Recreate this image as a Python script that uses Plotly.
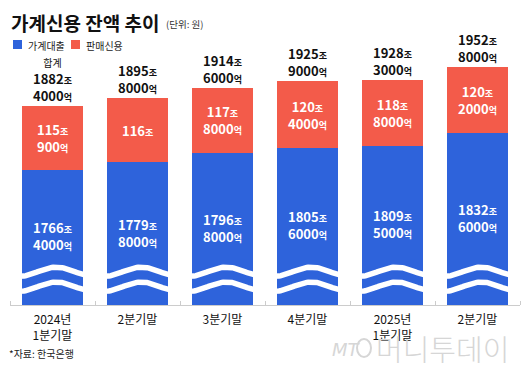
import numpy as np
import plotly.graph_objects as go

# ---- data (unit: 조원) ----
categories = ["2024년<br>1분기말", "2분기말", "3분기말", "4분기말", "2025년<br>1분기말", "2분기말"]
household_loans = [1766.4, 1779.8, 1796.8, 1805.6, 1809.5, 1832.6]   # 가계대출
sales_credit = [115.09, 116.0, 117.8, 120.4, 118.8, 120.2]           # 판매신용
totals = [1882.4, 1895.8, 1914.6, 1925.9, 1928.3, 1952.8]            # 합계

BLUE = "#2e63db"
RED = "#f35b4a"
FONT = "Noto Sans CJK KR"

OFF = 8                      # page body margin
W, H = 522, 368
ML, MR, MT, MB = 2, 10, 32, 71
Y0, Y1 = 1522, 2001
PW, PH = W - ML - MR, H - MT - MB


def X(px):
    return (px - OFF - ML) / PW


def Y(py):
    return (H - MB - (py - OFF)) / PH


def fmt(v, small=9):
    jo = int(v)
    eok = int(round((v - jo) * 10000))
    s = f"{jo}<span style='font-size:{small}px'>조</span>"
    if eok:
        s += f"<br>{eok}<span style='font-size:{small}px'>억</span>"
    return s


xs = list(range(len(categories)))
fig = go.Figure()
fig.add_bar(x=xs, y=household_loans, name="가계대출", marker_color=BLUE,
            marker_line_width=0, width=0.72, hoverinfo="skip")
fig.add_bar(x=xs, y=sales_credit, name="판매신용", marker_color=RED,
            marker_line_width=0, width=0.72, hoverinfo="skip")

# axis-break waves (decoration)
t = np.linspace(0, 1, 60)
for i in xs:
    for c in (1582.0, 1555.0):
        fig.add_scatter(x=i - 0.44 + 0.88 * t,
                        y=c + 8.5 * np.cos(2 * np.pi * (t - 0.55)),
                        mode="lines", line=dict(color="white", width=5.5),
                        hoverinfo="skip", showlegend=False)

ann = []
for i in xs:
    b, r, tot = household_loans[i], sales_credit[i], totals[i]
    ann.append(dict(x=i, y=(Y0 + b) / 2 + 2, text="<b>" + fmt(b) + "</b>",
                    showarrow=False,
                    font=dict(family=FONT, size=13, color="white"),
                    xref="x", yref="y"))
    ann.append(dict(x=i, y=b + r / 2, text="<b>" + fmt(r) + "</b>",
                    showarrow=False,
                    font=dict(family=FONT, size=13, color="white"),
                    xref="x", yref="y"))
    txt = "<b>" + fmt(tot) + "</b>"
    if i == 0:
        txt = "<span style='font-size:10px'>합계</span><br>" + txt
    ann.append(dict(x=i, y=b + r, text=txt, showarrow=False, yanchor="bottom",
                    yshift=-1, font=dict(family=FONT, size=13, color="#111"),
                    xref="x", yref="y"))

# title / unit
ann.append(dict(x=X(9), y=Y(22), xref="paper", yref="paper", xanchor="left",
                yanchor="middle", showarrow=False,
                text="<b>가계신용 잔액 추이</b>",
                font=dict(family=FONT, size=19, color="#111")))
ann.append(dict(x=X(164), y=Y(24), xref="paper", yref="paper", xanchor="left",
                yanchor="middle", showarrow=False, text="(단위: 원)",
                font=dict(family=FONT, size=9.5, color="#333")))
# legend
ann.append(dict(x=X(26), y=Y(45), xref="paper", yref="paper", xanchor="left",
                yanchor="middle", showarrow=False, text="가계대출",
                font=dict(family=FONT, size=10, color="#222")))
ann.append(dict(x=X(84), y=Y(45), xref="paper", yref="paper", xanchor="left",
                yanchor="middle", showarrow=False, text="판매신용",
                font=dict(family=FONT, size=10, color="#222")))
# source / watermark
ann.append(dict(x=X(7), y=Y(353), xref="paper", yref="paper", xanchor="left",
                yanchor="middle", showarrow=False, text="*자료: 한국은행",
                font=dict(family=FONT, size=10, color="#222")))
ann.append(dict(x=X(330), y=Y(349), xref="paper", yref="paper", xanchor="left",
                yanchor="middle", showarrow=False, text="<i>MT</i>",
                font=dict(family="DejaVu Sans", size=18, color="#d6d6d6")))
ann.append(dict(x=X(374), y=Y(348), xref="paper", yref="paper", xanchor="left",
                yanchor="middle", showarrow=False, text="머니투데이",
                font=dict(family=FONT, size=29, color="#d6d6d6", weight=300)))

shapes = [
    dict(type="rect", xref="paper", yref="paper", x0=X(13), x1=X(22),
         y0=Y(49), y1=Y(40), fillcolor=BLUE, line_width=0),
    dict(type="rect", xref="paper", yref="paper", x0=X(71), x1=X(80),
         y0=Y(49), y1=Y(40), fillcolor=RED, line_width=0),
    dict(type="circle", xref="paper", yref="paper", x0=X(357), x1=X(371),
         y0=Y(357), y1=Y(339), line=dict(color="#d6d6d6", width=2)),
]

fig.update_layout(
    width=W, height=H, barmode="stack", showlegend=False,
    margin=dict(l=ML, r=MR, t=MT, b=MB),
    paper_bgcolor="white", plot_bgcolor="white",
    annotations=ann, shapes=shapes,
    xaxis=dict(range=[-0.5, 5.5], tickvals=xs, ticktext=categories,
               ticks="", showgrid=False, zeroline=False, showline=True,
               linecolor="#cccccc", linewidth=1, ticklabelstandoff=4,
               tickfont=dict(family=FONT, size=12, color="#111"),
               minor=dict(tickvals=[k - 0.5 for k in range(7)], ticks="inside",
                          ticklen=4, tickcolor="#cccccc", showgrid=False)),
    yaxis=dict(range=[Y0, Y1], visible=False, showgrid=False, zeroline=False),
)

fig.write_html("out.html")
